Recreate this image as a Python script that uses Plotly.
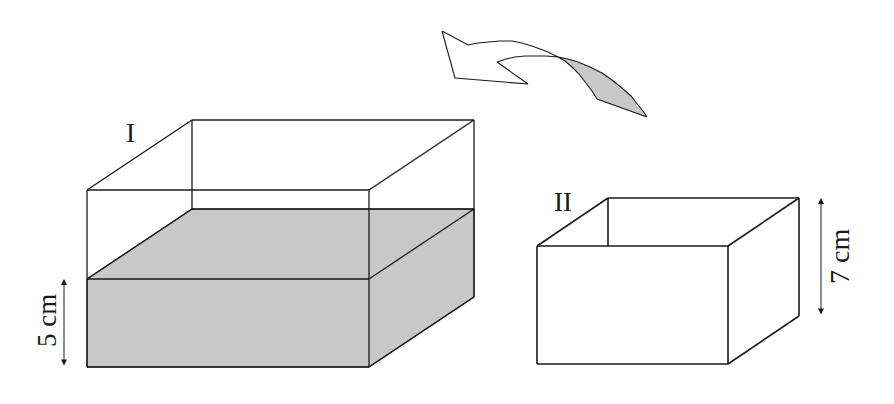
import plotly.graph_objects as go

# box I (container with water), page units: x right, y down
box1_front_x = [87, 369]
box1_front_y = [190, 367]
box1_depth = [105, -70]
box1_water_y = 279

# box II (empty container)
box2_front_x = [537, 728]
box2_front_y = [246, 364]
box2_depth = [71, -48]

# curved "pour" arrow outline
arrow_white_x = [442, 468, 478, 488, 500, 512, 522, 532, 540, 548, 558,
                 546, 535, 525, 515, 506, 497, 528, 455, 442]
arrow_white_y = [31, 45, 43, 42, 41, 41, 43, 46, 49, 52, 57,
                 56, 56, 56, 57, 59, 62, 84, 78, 31]
arrow_grey_x = [558, 568, 578, 590, 602, 612, 622, 631, 638, 643, 647,
                597, 592, 585, 579, 572, 565, 558]
arrow_grey_y = [57, 59, 62, 67, 73, 80, 88, 96, 105, 111, 117,
                99, 91, 82, 74, 67, 61, 57]

labels = ["I", "II", "5 cm", "7 cm"]

INK = "#1a1a1a"
GREY = "#c8c8c8"


def segs(pairs):
    xs, ys = [], []
    for (x0, y0), (x1, y1) in pairs:
        xs += [x0, x1, None]
        ys += [y0, y1, None]
    return xs, ys


def line_trace(pairs, width=1.3):
    xs, ys = segs(pairs)
    return go.Scatter(x=xs, y=ys, mode="lines", line=dict(color=INK, width=width),
                      hoverinfo="skip", showlegend=False)


def fill_trace(xs, ys, color):
    return go.Scatter(x=xs, y=ys, mode="lines", fill="toself", fillcolor=color,
                      line=dict(color=INK, width=1.1), hoverinfo="skip", showlegend=False)


fig = go.Figure()

# ---- box I ----
l, r = box1_front_x
t, b = box1_front_y
dx, dy = box1_depth
w = box1_water_y
fig.add_trace(fill_trace([l, l + dx, r + dx, r + dx, r, l, l],
                         [w, w + dy, w + dy, b + dy, b, b, w], GREY))
fig.add_trace(line_trace([
    ((l, t), (r, t)), ((r, t), (r, b)), ((r, b), (l, b)), ((l, b), (l, t)),
    ((l, t), (l + dx, t + dy)), ((r, t), (r + dx, t + dy)), ((l + dx, t + dy), (r + dx, t + dy)),
    ((r + dx, t + dy), (r + dx, b + dy)), ((r, b), (r + dx, b + dy)),
    ((l + dx, t + dy), (l + dx, w + dy)),
    ((l, w), (r, w)), ((l, w), (l + dx, w + dy)), ((l + dx, w + dy), (r + dx, w + dy)),
    ((r, w), (r + dx, w + dy)),
]))

# ---- box II ----
l2, r2 = box2_front_x
t2, b2 = box2_front_y
dx2, dy2 = box2_depth
fig.add_trace(line_trace([
    ((l2, t2), (r2, t2)), ((r2, t2), (r2, b2)), ((r2, b2), (l2, b2)), ((l2, b2), (l2, t2)),
    ((l2, t2), (l2 + dx2, t2 + dy2)), ((r2, t2), (r2 + dx2, t2 + dy2)),
    ((l2 + dx2, t2 + dy2), (r2 + dx2, t2 + dy2)),
    ((l2 + dx2, t2 + dy2), (l2 + dx2, t2)),
    ((r2 + dx2, t2 + dy2), (r2 + dx2, b2 + dy2)), ((r2, b2), (r2 + dx2, b2 + dy2)),
], width=1.6))

# ---- arrow ----
fig.add_trace(fill_trace(arrow_grey_x, arrow_grey_y, GREY))
fig.add_trace(go.Scatter(x=arrow_white_x, y=arrow_white_y, mode="lines",
                         line=dict(color=INK, width=1.1), hoverinfo="skip", showlegend=False))

# ---- text ----
serif = dict(family="Liberation Serif", color=INK)
fig.add_annotation(x=130, y=133, text=labels[0], showarrow=False, font=dict(size=27, **serif))
fig.add_annotation(x=563, y=202, text=labels[1], showarrow=False, font=dict(size=27, **serif))
fig.add_annotation(x=47, y=321, text=labels[2], showarrow=False,
                   textangle=-90, font=dict(size=27, **serif))
fig.add_annotation(x=839, y=257, text=labels[3], showarrow=False,
                   textangle=-90, font=dict(size=28, **serif))

# dimension arrows
for xa, ya0, ya1 in [(64, w, b), (821, t2 + dy2, b2 + dy2)]:
    fig.add_annotation(x=xa, y=ya0, ax=xa, ay=ya1, xref="x", yref="y", axref="x", ayref="y",
                       showarrow=True, arrowhead=2, arrowside="end+start", arrowsize=1.2,
                       arrowwidth=1, arrowcolor=INK, text="")

# page body adds an 8px margin, so the ranges start at 8
fig.update_layout(
    width=894, height=404,
    margin=dict(l=0, r=0, t=0, b=0),
    paper_bgcolor="white", plot_bgcolor="white",
    xaxis=dict(range=[8, 902], visible=False, fixedrange=True),
    yaxis=dict(range=[412, 8], visible=False, fixedrange=True),
)

fig.write_html("out.html")
